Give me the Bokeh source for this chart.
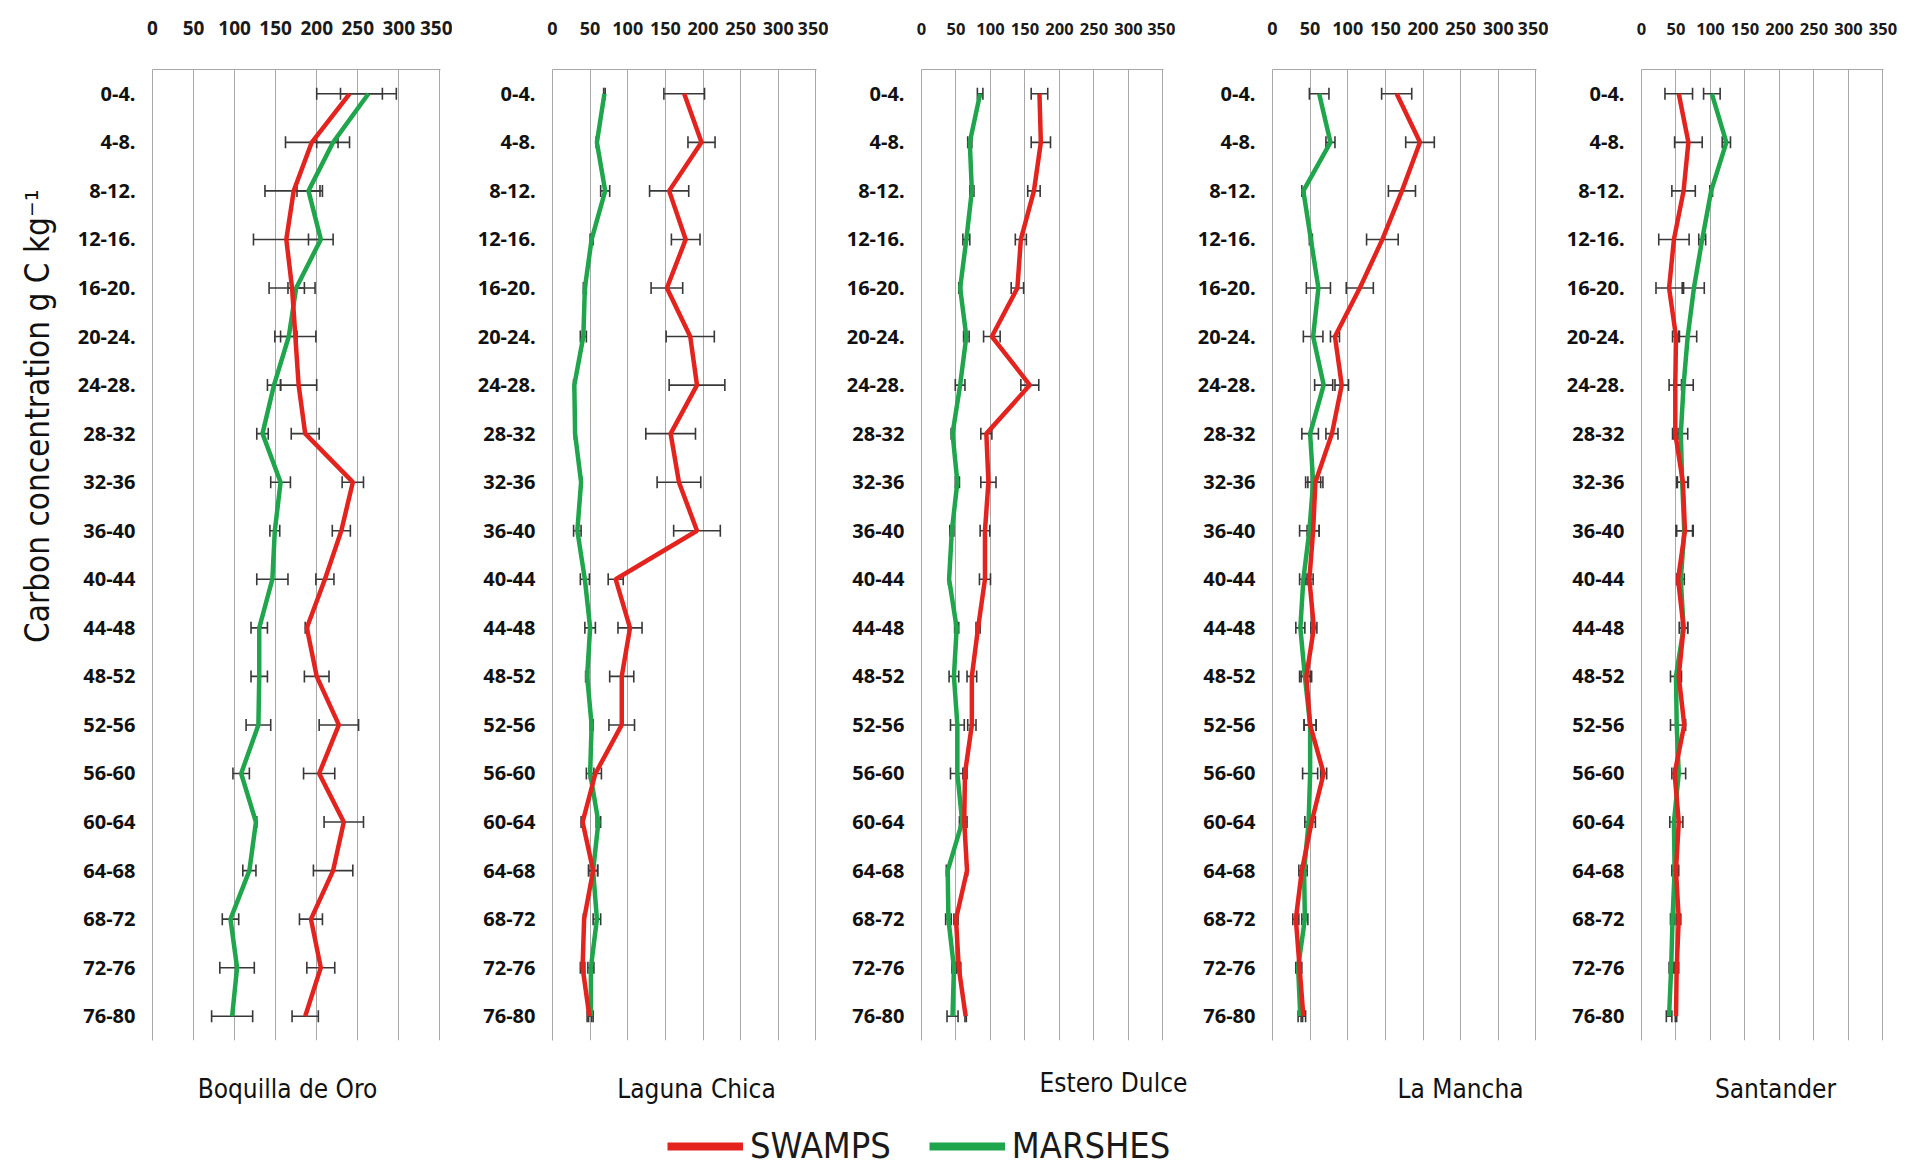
import math
from bokeh.plotting import figure
from bokeh.models import (ColumnDataSource, FactorRange, Range1d, FixedTicker,
                          Whisker, TeeHead, Label, Legend, LegendItem)
from bokeh.layouts import row, column
from bokeh.embed import file_html
from bokeh.resources import INLINE

# ---------------- data ----------------
depths = ["0-4.", "4-8.", "8-12.", "12-16.", "16-20.", "20-24.", "24-28.", "28-32",
          "32-36", "36-40", "40-44", "44-48", "48-52", "52-56", "56-60", "60-64",
          "64-68", "68-72", "72-76", "76-80"]
x_ticks = [0, 50, 100, 150, 200, 250, 300, 350]
sites = ["Boquilla de Oro", "Laguna Chica", "Estero Dulce", "La Mancha", "Santander"]

boquilla_swamp = [240, 194, 172, 163, 170, 174, 178, 186, 244, 230, 210, 188, 200, 227, 203, 233, 220, 193, 205, 186]
boquilla_swamp_err = [40, 32, 35, 40, 28, 25, 22, 17, 13, 11, 11, 2, 15, 24, 19, 24, 24, 14, 17, 16]
boquilla_marsh = [263, 220, 190, 205, 175, 166, 148, 134, 156, 149, 146, 130, 130, 129, 108, 126, 118, 95, 103, 97]
boquilla_marsh_err = [34, 20, 14, 15, 10, 10, 8, 7, 12, 6, 19, 10, 10, 15, 10, 1, 8, 10, 21, 25]

laguna_swamp = [175, 198, 155, 177, 152, 183, 192, 157, 168, 192, 84, 103, 92, 92, 57, 40, 54, 42, 40, 49]
laguna_swamp_err = [27, 18, 26, 19, 21, 32, 37, 33, 29, 31, 10, 16, 16, 17, 8, 2, 6, 1, 3, 3]
laguna_marsh = [69, 59, 70, 52, 43, 41, 29, 30, 38, 33, 43, 50, 46, 52, 50, 61, 54, 59, 51, 51]
laguna_marsh_err = [1, 1, 6, 2, 2, 4, 1, 1, 1, 5, 6, 7, 2, 2, 5, 3, 6, 5, 4, 3]

estero_swamp = [171, 173, 163, 144, 139, 102, 157, 94, 97, 92, 92, 82, 73, 73, 63, 62, 66, 50, 54, 64]
estero_swamp_err = [12, 14, 9, 8, 9, 12, 13, 8, 11, 7, 8, 3, 7, 6, 3, 4, 1, 3, 3, 1]
estero_marsh = [85, 70, 73, 65, 56, 65, 56, 45, 52, 44, 40, 51, 47, 52, 52, 59, 38, 39, 47, 45]
estero_marsh_err = [4, 3, 3, 5, 2, 4, 7, 2, 3, 3, 1, 3, 7, 10, 10, 4, 2, 4, 3, 8]

mancha_swamp = [165, 196, 172, 146, 116, 83, 92, 79, 57, 54, 49, 55, 45, 50, 68, 52, 39, 31, 36, 41]
mancha_swamp_err = [20, 19, 18, 21, 18, 6, 9, 8, 10, 8, 5, 4, 7, 8, 4, 5, 4, 4, 3, 3]
mancha_marsh = [62, 77, 41, 51, 61, 54, 68, 50, 54, 49, 41, 37, 43, 50, 50, 48, 42, 43, 34, 37]
mancha_marsh_err = [13, 6, 2, 2, 16, 13, 12, 11, 10, 13, 5, 6, 7, 8, 10, 5, 4, 4, 3, 3]

santander_swamp = [54, 68, 61, 47, 40, 50, 49, 49, 60, 63, 53, 61, 54, 62, 48, 54, 50, 54, 51, 50]
santander_swamp_err = [20, 20, 17, 22, 19, 5, 9, 4, 8, 12, 2, 6, 1, 2, 1, 6, 4, 3, 3, 1]
santander_marsh = [102, 123, 101, 88, 76, 67, 61, 57, 59, 62, 57, 61, 50, 51, 54, 47, 48, 45, 43, 40]
santander_marsh_err = [12, 6, 2, 5, 15, 13, 14, 10, 8, 12, 5, 6, 8, 9, 10, 6, 4, 3, 3, 4]

series = [
    (boquilla_swamp, boquilla_swamp_err, boquilla_marsh, boquilla_marsh_err),
    (laguna_swamp, laguna_swamp_err, laguna_marsh, laguna_marsh_err),
    (estero_swamp, estero_swamp_err, estero_marsh, estero_marsh_err),
    (mancha_swamp, mancha_swamp_err, mancha_marsh, mancha_marsh_err),
    (santander_swamp, santander_swamp_err, santander_marsh, santander_marsh_err),
]

# ---------------- style / layout ----------------
RED = "#E4231E"
GREEN = "#1FA54B"
ERR = "#383838"
GRID = "#A8A8A8"
COND = "DejaVu Sans Condensed"
LABEL_FONT = "Noto Sans"

YLAB_W = 68
FRAME_H = 971
TOP = 69
BOTTOM = 6
PANEL_H = TOP + FRAME_H + BOTTOM
STRIP_H = 120
TOTAL_W = 1905

# (left border, frame width, right border, top tick-label size)
geom = [
    (84, 288, 12, "19px"),
    (100, 264, 12, "18px"),
    (93, 242, 12, "16.5px"),
    (97, 264, 12, "18px"),
    (93, 242, 22, "16.5px"),
]
# title centres in the bottom strip (pixels from page left / strip top)
title_x = [287, 696, 1113, 1460, 1775]
title_y = [42, 42, 36, 42, 42]

figs = []

# narrow strip carrying the rotated y-axis title (its frame lines up with the panels' frames)
yl = figure(width=YLAB_W, height=PANEL_H, x_range=Range1d(0, YLAB_W),
            y_range=Range1d(TOP + FRAME_H, TOP), x_axis_location=None, y_axis_location=None,
            min_border=0, output_backend="svg", toolbar_location=None)
yl.grid.visible = False
yl.outline_line_color = None
yl.add_layout(Label(x=37, y=411, text="Carbon concentration  g C kg\u207b\u00b9",
                    angle=math.pi / 2, text_align="center", text_baseline="middle",
                    text_font=COND, text_font_size="33px", text_color="#111111"))
figs.append(yl)

for i, (name, (sw, swe, ma, mae), g) in enumerate(zip(sites, series, geom)):
    lb, fw, rb, tfs = g
    src = ColumnDataSource(dict(
        depth=depths,
        swamp=sw,
        swamp_lo=[v - e for v, e in zip(sw, swe)],
        swamp_hi=[v + e for v, e in zip(sw, swe)],
        marsh=ma,
        marsh_lo=[v - e for v, e in zip(ma, mae)],
        marsh_hi=[v + e for v, e in zip(ma, mae)],
    ))
    p = figure(y_range=FactorRange(factors=depths[::-1]), x_range=Range1d(0, 350.8),
               x_axis_location="above", frame_width=fw, frame_height=FRAME_H,
               min_border_left=lb, min_border_right=rb,
               min_border_top=TOP, min_border_bottom=BOTTOM,
               output_backend="svg", toolbar_location=None)
    p.outline_line_color = None

    xa = p.xaxis[0]
    xa.ticker = FixedTicker(ticks=x_ticks)
    xa.axis_line_color = GRID
    xa.axis_line_width = 1
    xa.major_tick_line_color = None
    xa.minor_tick_line_color = None
    xa.major_tick_out = 0
    xa.major_tick_in = 0
    xa.major_label_standoff = 35
    xa.major_label_text_font = LABEL_FONT
    xa.major_label_text_font_style = "bold"
    xa.major_label_text_font_size = tfs
    xa.major_label_text_color = "#1a1a1a"

    ya = p.yaxis[0]
    ya.axis_line_color = GRID
    ya.major_tick_line_color = None
    ya.minor_tick_line_color = None
    ya.major_tick_out = 0
    ya.major_tick_in = 0
    ya.major_label_standoff = 17
    ya.major_label_text_font = LABEL_FONT
    ya.major_label_text_font_style = "bold"
    ya.major_label_text_font_size = "20px"
    ya.major_label_text_color = "#111111"

    p.xgrid.ticker = FixedTicker(ticks=x_ticks)
    p.xgrid.grid_line_color = GRID
    p.xgrid.grid_line_width = 1
    p.ygrid.visible = False

    p.line(x="marsh", y="depth", source=src, line_color=GREEN, line_width=4.5)
    p.line(x="swamp", y="depth", source=src, line_color=RED, line_width=4.5)

    for lo, hi in (("swamp_lo", "swamp_hi"), ("marsh_lo", "marsh_hi")):
        w = Whisker(source=src, base="depth", lower=lo, upper=hi, dimension="width",
                    line_color=ERR, line_width=1.6,
                    upper_head=TeeHead(size=12, line_color=ERR, line_width=1.6),
                    lower_head=TeeHead(size=12, line_color=ERR, line_width=1.6))
        p.add_layout(w)
    figs.append(p)

# ---------------- bottom strip: site names + legend ----------------
st = figure(width=TOTAL_W, height=STRIP_H, x_range=Range1d(0, TOTAL_W),
            y_range=Range1d(STRIP_H, 0), x_axis_location=None, y_axis_location=None,
            min_border=0, output_backend="svg", toolbar_location=None)
st.grid.visible = False
st.outline_line_color = None
for name, tx, ty in zip(sites, title_x, title_y):
    st.add_layout(Label(x=tx, y=ty, text=name, text_align="center", text_baseline="middle",
                        text_font=COND, text_font_size="26px", text_color="#111111"))

nan = float("nan")
r1 = st.line(x=[nan], y=[nan], line_color=RED, line_width=8)
r2 = st.line(x=[nan], y=[nan], line_color=GREEN, line_width=8)
leg = Legend(items=[LegendItem(label="SWAMPS", renderers=[r1]),
                    LegendItem(label="MARSHES", renderers=[r2])],
             orientation="horizontal", location=(667, 0),
             glyph_width=76, glyph_height=26, label_standoff=7, spacing=38,
             padding=0, margin=0, border_line_color=None, background_fill_alpha=0,
             label_text_font=COND, label_text_font_size="36px",
             label_text_color="#1a1a1a", label_height=26)
st.add_layout(leg)

layout = column(row(*figs, spacing=0), st, spacing=0)
open("out.html", "w").write(file_html(layout, INLINE))
